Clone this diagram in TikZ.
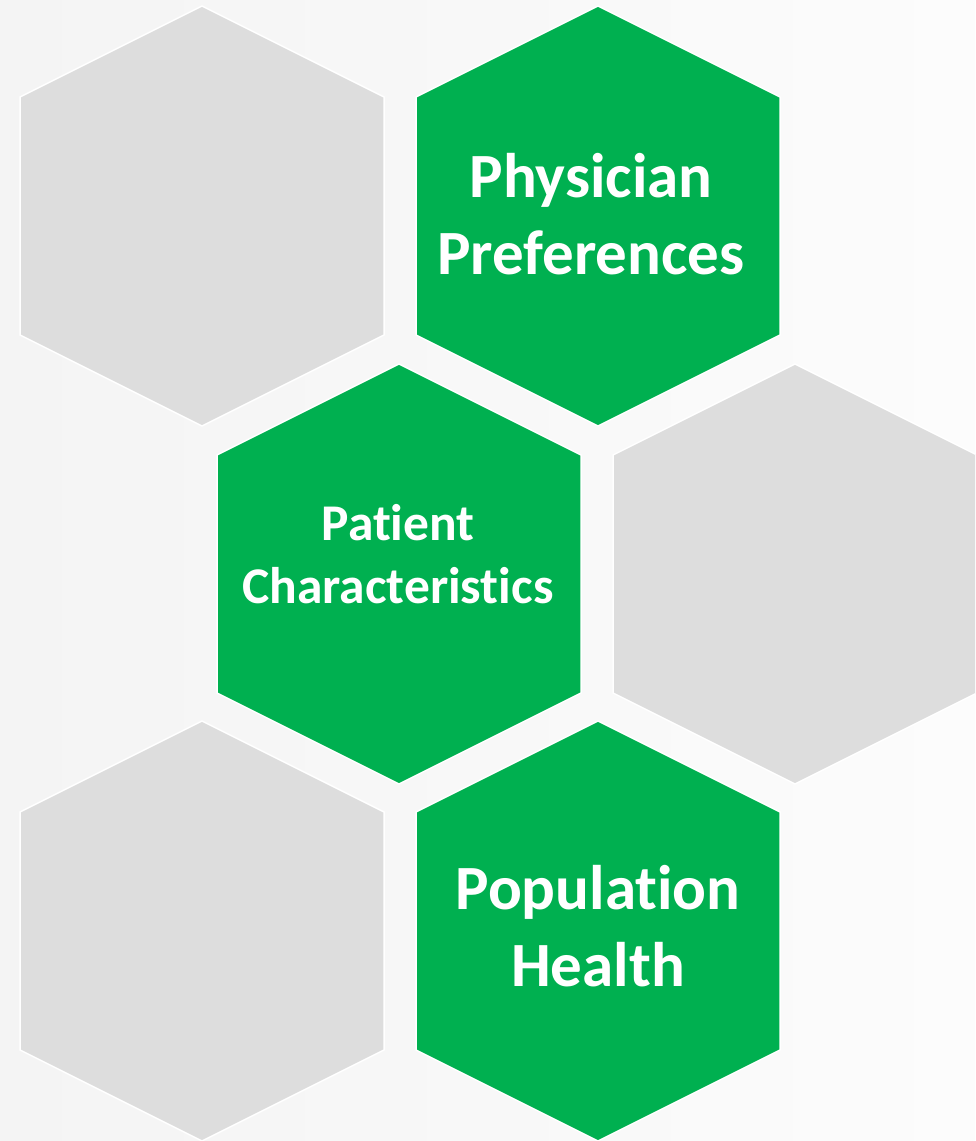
\documentclass[tikz,border=0pt]{standalone}
\usepackage{fontspec}
\setmainfont[Ligatures=NoCommon]{Carlito}

\definecolor{cellgreen}{HTML}{00B050}
\definecolor{cellgrey}{HTML}{DDDDDD}
\definecolor{bgleft}{HTML}{F4F4F4}
\definecolor{bgright}{HTML}{FCFCFC}

\tikzset{
  cell/.style={draw=white, line width=1.5pt, line join=miter},
  celltext/.style={text=white, align=center, inner sep=0pt},
  bigtext/.style={celltext, font=\bfseries\fontsize{63}{77}\selectfont},
  smalltext/.style={celltext, font=\bfseries\fontsize{51.5}{63}\selectfont}
}

\begin{document}
\begin{tikzpicture}[x=1pt,y=-1pt]

\useasboundingbox (0,0) rectangle (975,1141);
\clip (0,0) rectangle (975,1141);
\shade[left color=bgleft, right color=bgright] (0,0) rectangle (975,1141);

\foreach \cx/\cy/\fillcol in {
  202/216/cellgrey,
  598/216/cellgreen,
  399/574/cellgreen,
  795/574/cellgrey,
  202/931/cellgrey,
  598/931/cellgreen}
    \draw[cell, fill=\fillcol] (\cx,\cy-210) -- ++(182,91) -- ++(0,238)
      -- ++(-182,91) -- ++(-182,-91) -- ++(0,-238) -- cycle;

\node[bigtext] (physician) at (591,214) {Physician\\Preferences};
\node[smalltext] (patient) at (398,554) {Patient\\Characteristics};
\node[bigtext] (population) at (598,926) {Population\\Health};

\end{tikzpicture}
\end{document}
